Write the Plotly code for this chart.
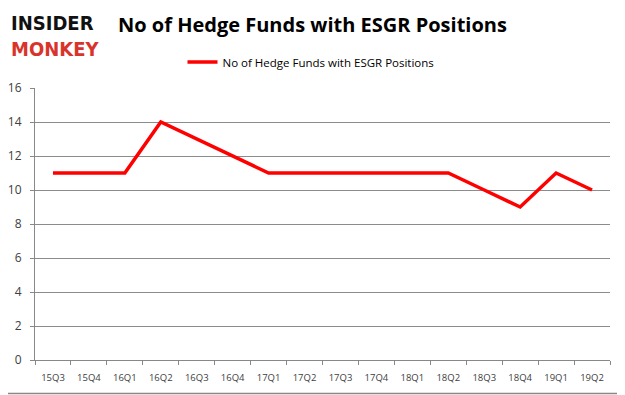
import plotly.graph_objects as go

quarters = ["15Q3","15Q4","16Q1","16Q2","16Q3","16Q4","17Q1","17Q2","17Q3","17Q4","18Q1","18Q2","18Q3","18Q4","19Q1","19Q2"]
funds = [11, 11, 11, 14, 13, 12, 11, 11, 11, 11, 11, 11, 10, 9, 11, 10]
series_name = "No of Hedge Funds with ESGR Positions"

# the page body has an 8px margin, so the figure sits at (8, 8) on screen
OFF = 8
W, H = 625 - OFF, 395 - OFF
L, R, T, B = 35 - OFF, 15, 88 - OFF, 35
PW, PH = W - L - R, H - T - B

def px(sx):
    return (sx - OFF - L) / PW

def py(sy):
    return (H - B - (sy - OFF)) / PH

fig = go.Figure()
fig.add_trace(go.Scatter(x=quarters, y=funds, mode="lines", name=series_name,
                         line=dict(color="#ff0000", width=3.5)))

fig.update_layout(
    width=W, height=H,
    margin=dict(l=L, r=R, t=T, b=B, autoexpand=False),
    paper_bgcolor="white", plot_bgcolor="white",
    font=dict(family="Open Sans, Liberation Sans, sans-serif", color="#404040", size=11),
    showlegend=True,
    legend=dict(orientation="h", xref="container", yref="container",
                x=(311 - OFF) / W, xanchor="center", y=1 - (62 - OFF) / H, yanchor="middle",
                font=dict(size=11.5, color="#000000"), bgcolor="rgba(0,0,0,0)"),
    xaxis=dict(type="category", showgrid=False, showline=True, linecolor="#888888",
               ticks="outside", tickson="boundaries", ticklen=4, tickcolor="#888888",
               tickfont=dict(size=9.5), range=[-0.5, 15.5], automargin=False,
               ticklabelstandoff=9),
    yaxis=dict(range=[0, 16], dtick=2, showgrid=True, gridcolor="#8c8c8c", gridwidth=1,
               showline=True, linecolor="#888888", ticks="outside", ticklen=4,
               tickcolor="#888888", tickfont=dict(size=12), zeroline=False,
               automargin=False, ticklabelstandoff=6),
    shapes=[
        dict(type="line", xref="paper", yref="paper", x0=px(623.5), x1=px(623.5),
             y0=py(393.5), y1=py(OFF), line=dict(color="#888888", width=1.5)),
        dict(type="line", xref="paper", yref="paper", x0=px(OFF), x1=px(623.5),
             y0=py(393.5), y1=py(393.5), line=dict(color="#888888", width=1.5)),
    ],
    annotations=[
        dict(text="<b>No of Hedge Funds with ESGR Positions</b>", xref="paper", yref="paper",
             x=px(116), y=py(25), xanchor="left", yanchor="middle", showarrow=False,
             font=dict(size=20, color="#000000", family="Open Sans, Liberation Sans, sans-serif")),
        dict(text="<b>INSIDER</b><br><b><span style='color:#d9342b'>MONKEY</span></b>",
             xref="paper", yref="paper", align="left",
             x=px(OFF + 0.5), y=py(9), xanchor="left", yanchor="top", showarrow=False,
             font=dict(size=20, color="#111111", family="DejaVu Sans Condensed, DejaVu Sans, sans-serif")),
    ],
)

fig.write_html("out.html")
